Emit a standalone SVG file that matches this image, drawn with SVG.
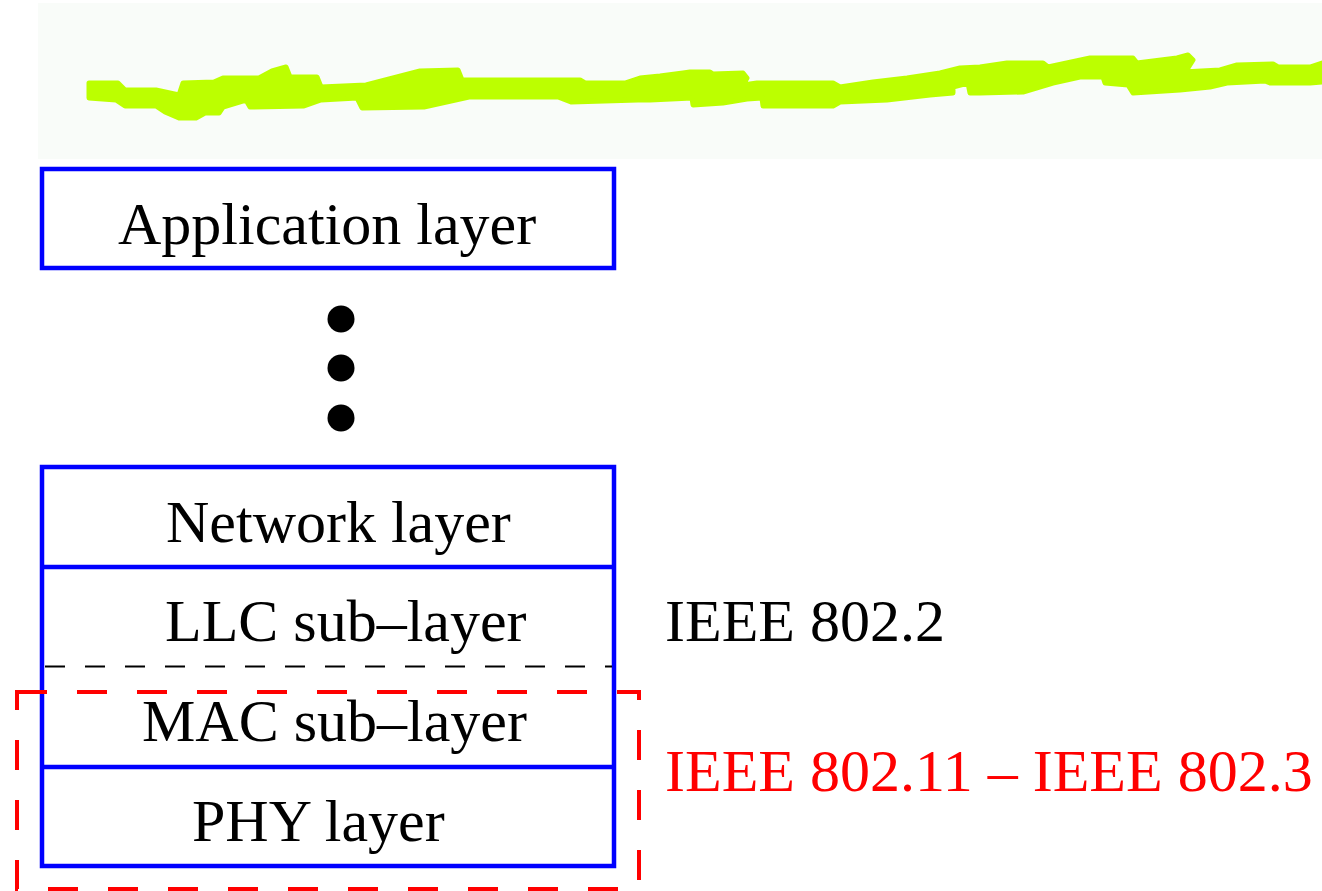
<svg xmlns="http://www.w3.org/2000/svg" width="1322" height="891" viewBox="0 0 1322 891">
  <style>
    .layer { fill: #ffffff; stroke: #0000ff; stroke-width: 4.5; }
    .divider { stroke: #0000ff; stroke-width: 4.5; }
    .lbl { font-family: "Liberation Serif", "Times New Roman", serif; font-size: 60px; fill: #000000; }
    .red { fill: #ff0000; }
    .marker-stroke { fill: #bcff00; stroke: #bcff00; stroke-width: 5; stroke-linejoin: round; }
  </style>

  <!-- header band with highlighter stroke -->
  <g id="header">
    <rect x="38" y="3" width="1284" height="156" fill="#f9fcf9"/>
    <polygon class="marker-stroke" points="89,83 118,83 125,90 156,90 179,95 183,83 214,82 223,78 259,78 272,71 286,67 290,77 317,77 321,87 366,85 420,71 458,70 462,80 580,80 585,83 625,83 640,78 660,76 683,73 690,72 710,72 713,74 743,73 747,78 743,85 757,83 833,83 840,87 873,82 907,78 940,73 960,68 980,67 1007,63 1043,63 1048,67 1090,58 1133,58 1137,63 1177,58 1188,55 1193,60 1188,68 1183,72 1220,70 1237,65 1273,64 1278,67 1310,67 1322,63 1322,82 1310,83 1270,83 1265,81 1227,83 1210,87 1180,90 1133,93 1128,85 1105,83 1103,77 1080,77 1053,83 1023,92 980,93 970,93 968,83 953,87 953,93 930,95 887,100 840,102 833,106 763,106 762,98 747,99 723,103 693,105 692,98 650,100 638,100 571,102 558,97 469,97 424,107 362,108 357,98 321,100 304,106 250,107 246,100 223,107 219,113 205,113 196,118 179,118 165,112 156,106 125,106 116,100 89,98"/>
  </g>

  <!-- application layer box -->
  <g id="application">
    <rect class="layer" x="42" y="169" width="572" height="99"/>
    <text class="lbl" x="118" y="244">Application layer</text>
  </g>

  <!-- ellipsis between layers -->
  <g id="ellipsis" fill="#000000">
    <circle cx="341" cy="319" r="13.5"/>
    <circle cx="341" cy="368" r="13.5"/>
    <circle cx="341" cy="418" r="13.5"/>
  </g>

  <!-- lower protocol stack -->
  <g id="stack">
    <rect class="layer" x="42" y="467" width="572" height="399"/>
    <line class="divider" x1="42" y1="567" x2="614" y2="567"/>
    <line class="divider" x1="42" y1="767" x2="614" y2="767"/>
    <line x1="44" y1="666.5" x2="612" y2="666.5" stroke="#000000" stroke-width="2" stroke-dasharray="20 20" stroke-dashoffset="-1"/>
  </g>

  <g id="network">
    <text class="lbl" x="166" y="542">Network layer</text>
  </g>
  <g id="llc">
    <text class="lbl" x="165" y="641">LLC sub–layer</text>
  </g>
  <g id="mac">
    <text class="lbl" x="142" y="741">MAC sub–layer</text>
  </g>
  <g id="phy">
    <text class="lbl" x="192" y="841">PHY layer</text>
  </g>

  <!-- standards grouping -->
  <g id="ieee-802-2">
    <text class="lbl" x="665" y="641">IEEE 802.2</text>
  </g>
  <g id="ieee-802-11-3">
    <rect x="17" y="692" width="622" height="197" fill="none" stroke="#ff0000" stroke-width="4" stroke-dasharray="30 30"/>
    <text class="lbl red" x="665" y="791">IEEE 802.11 – IEEE 802.3</text>
  </g>
</svg>
